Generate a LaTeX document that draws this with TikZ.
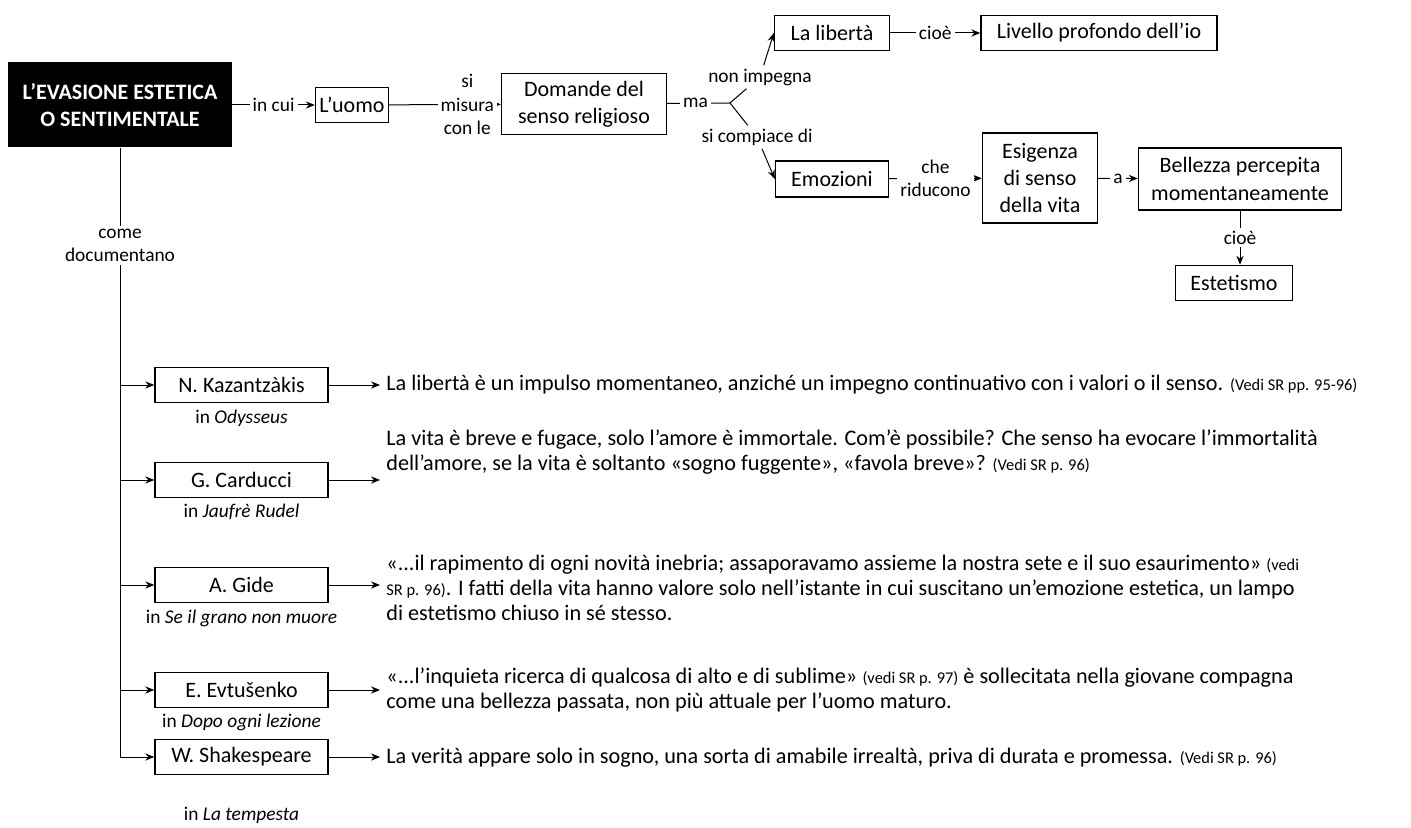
\documentclass[tikz,border=0pt]{standalone}
\usepackage{fontspec}
\setmainfont{Carlito}
\usetikzlibrary{arrows.meta}
\newcommand\rif[1]{{\fontsize{8.2}{9.5}\selectfont #1}}

\begin{document}
\begin{tikzpicture}[x=0.5pt, y=-0.5pt, font=\fontsize{11}{13.6}\selectfont]
%% coordinates are the pixel positions of the original drawing (y grows downward)
\tikzstyle{arc}=[-{Stealth[length=4.5pt,width=3.6pt]}, line width=0.5pt]
\tikzstyle{link}=[line width=0.5pt]
\tikzstyle{box}=[draw, line width=0.7pt, align=center, inner sep=2pt]
\tikzstyle{titlebox}=[fill=black, text=white, align=center, font=\fontsize{11}{13.6}\selectfont\bfseries, minimum width=112pt, minimum height=42.5pt]
\tikzstyle{lbl}=[fill=white, inner sep=1.5pt, align=center, font=\fontsize{9.7}{11.6}\selectfont]
\tikzstyle{author}=[box, minimum width=86.5pt, minimum height=17.5pt]
\tikzstyle{caption}=[font=\fontsize{9.7}{11.6}\selectfont]
\tikzstyle{quote}=[anchor=west, align=left, inner sep=0pt, font=\fontsize{11.1}{12.5}\selectfont]
\useasboundingbox (0,0) rectangle (1411,828);
%% upper part of the map %%
\node[titlebox] at (120,105) (Evasione) {L’EVASIONE ESTETICA\\O SENTIMENTALE};
\node[box, minimum width=34pt, minimum height=17.5pt] at (352,105) (Uomo) {L’uomo};
\node[box, minimum width=82.5pt, minimum height=30.5pt] at (584,104) (Domande) {Domande del\\senso religioso};
\node[box, minimum width=57.5pt, minimum height=17.5pt] at (832,33) (Liberta) {La libertà};
\node[box, minimum width=118pt, minimum height=17.5pt] at (1099,33) (Livello) {Livello profondo dell’io};
\node[box, minimum width=56.5pt, minimum height=18pt] at (832,179) (Emozioni) {Emozioni};
\node[box, minimum width=57.5pt, minimum height=45pt] at (1040,178) (Esigenza) {Esigenza\\di senso\\della vita};
\node[box, minimum width=101.5pt, minimum height=31pt] at (1240,179) (Bellezza) {Bellezza percepita\\momentaneamente};
\node[box, minimum width=58.5pt, minimum height=17.5pt] at (1234,283) (Estetismo) {Estetismo};
%% labels of the fork after Domande
\coordinate (Fork) at (730,103);
\node[lbl] at (760,77) (NonImpegna) {non impegna};
\node[lbl] at (757,137) (SiCompiace) {si compiace di};
%% connectors of the upper part
\draw[arc] (Evasione) -- node[lbl]{in cui} (Uomo);
\draw[arc] (Uomo) -- node[lbl, pos=0.7]{si\\misura\\con le} (Domande);
\draw[link] (Domande) -- node[lbl, pos=0.45]{ma} (Fork);
\draw[link] (Fork) -- (NonImpegna);
\draw[link] (Fork) -- (SiCompiace);
\draw[arc] (NonImpegna) -- (Liberta.west);
\draw[arc] (SiCompiace) -- (Emozioni.west);
\draw[arc] (Liberta) -- node[lbl]{cioè} (Livello);
\draw[arc] (Emozioni) -- node[lbl]{che\\riducono} (Esigenza);
\draw[arc] (Esigenza) -- node[lbl]{a} (Bellezza);
\draw[arc] (Bellezza) -- node[lbl]{cioè} (Bellezza |- Estetismo.north);
%% authors %%
\node[author] at (241.5,385) (Kazantzakis) {N. Kazantzàkis};
\node[caption] at (241.5,418) (KazantzakisOpera) {in \textit{Odysseus}};
\node[author] at (241.5,480) (Carducci) {G. Carducci};
\node[caption] at (241.5,512) (CarducciOpera) {in \textit{Jaufrè Rudel}};
\node[author] at (241.5,585) (Gide) {A. Gide};
\node[caption] at (241.5,618) (GideOpera) {in \textit{Se il grano non muore}};
\node[author] at (241.5,690) (Evtusenko) {E. Evtušenko};
\node[caption] at (241.5,722) (EvtusenkoOpera) {in \textit{Dopo ogni lezione}};
\node[author] at (241.5,757) (Shakespeare) {W. Shakespeare};
\node[caption] at (241.5,815) (ShakespeareOpera) {in \textit{La tempesta}};
%% comments on the authors
\node[quote] at (386,385) (KazantzakisText) {La libertà è un impulso momentaneo, anziché un impegno continuativo con i valori o il senso. \rif{(Vedi SR pp. 95-96)}};
\node[quote] at (386,452) (CarducciText) {La vita è breve e fugace, solo l’amore è immortale. Com’è possibile? Che senso ha evocare l’immortalità\\dell’amore, se la vita è soltanto «sogno fuggente», «favola breve»? \rif{(Vedi SR p. 96)}};
\node[quote] at (386,588) (GideText) {«...il rapimento di ogni novità inebria; assaporavamo assieme la nostra sete e il suo esaurimento» \rif{(vedi}\\\rif{SR p. 96)}. I fatti della vita hanno valore solo nell’istante in cui suscitano un’emozione estetica, un lampo\\di estetismo chiuso in sé stesso.};
\node[quote] at (386,690) (EvtusenkoText) {«...l’inquieta ricerca di qualcosa di alto e di sublime» \rif{(vedi SR p. 97)} è sollecitata nella giovane compagna\\come una bellezza passata, non più attuale per l’uomo maturo.};
\node[quote] at (386,758) (ShakespeareText) {La verità appare solo in sogno, una sorta di amabile irrealtà, priva di durata e promessa. \rif{(Vedi SR p. 96)}};
%% trunk and branches
\draw[arc] (Evasione) -- node[lbl, pos=0.16]{come\\documentano} (Evasione |- Shakespeare) -- (Shakespeare);
\foreach \who in {Kazantzakis, Carducci, Gide, Evtusenko}
  \draw[arc] (\who.west -| Evasione) -- (\who);
\foreach \who in {Kazantzakis, Carducci, Gide, Evtusenko, Shakespeare}
  \draw[arc, shorten >=3pt] (\who) -- (\who -| \who Text.west);
\end{tikzpicture}
\end{document}
